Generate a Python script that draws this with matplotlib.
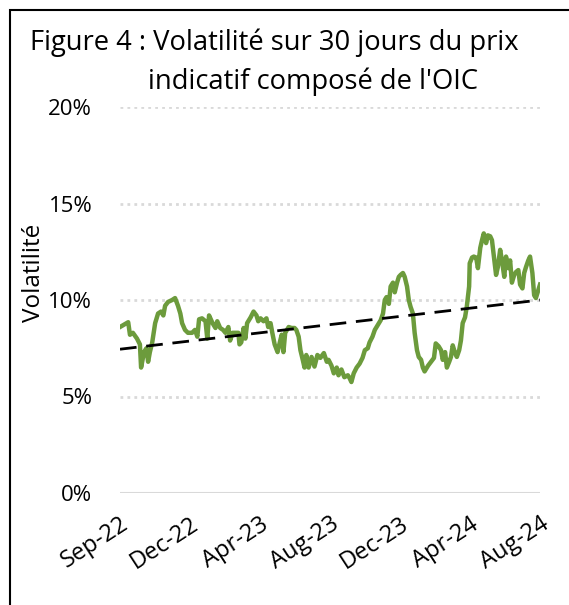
import matplotlib
matplotlib.use("Agg")
import matplotlib.pyplot as plt
import matplotlib.dates as mdates
from matplotlib.patches import Rectangle
from matplotlib.ticker import FuncFormatter
import numpy as np
import pandas as pd

# 30-day volatility (%) of the ICO composite indicator price
dates = [
    "2022-09-01", "2022-09-15", "2022-09-18", "2022-09-23", "2022-09-30", "2022-10-05",
    "2022-10-07", "2022-10-12", "2022-10-16", "2022-10-19", "2022-10-22", "2022-10-26",
    "2022-10-31", "2022-11-05", "2022-11-10", "2022-11-14", "2022-11-17", "2022-11-22",
    "2022-11-29", "2022-12-04", "2022-12-09", "2022-12-13", "2022-12-16", "2022-12-21",
    "2022-12-26", "2023-01-02", "2023-01-07", "2023-01-11", "2023-01-14", "2023-01-19",
    "2023-01-25", "2023-01-28", "2023-01-31", "2023-02-06", "2023-02-11", "2023-02-14",
    "2023-02-19", "2023-02-24", "2023-02-28", "2023-03-05", "2023-03-08", "2023-03-12",
    "2023-03-17", "2023-03-22", "2023-03-24", "2023-03-27", "2023-03-31", "2023-04-03",
    "2023-04-06", "2023-04-12", "2023-04-17", "2023-04-22", "2023-04-25", "2023-04-29",
    "2023-05-04", "2023-05-09", "2023-05-12", "2023-05-16", "2023-05-19", "2023-05-23",
    "2023-05-28", "2023-05-31", "2023-06-04", "2023-06-07", "2023-06-10", "2023-06-16",
    "2023-06-21", "2023-06-26", "2023-06-29", "2023-07-03", "2023-07-06", "2023-07-10",
    "2023-07-13", "2023-07-16", "2023-07-20", "2023-07-25", "2023-07-30", "2023-08-04",
    "2023-08-09", "2023-08-15", "2023-08-20", "2023-08-23", "2023-08-28", "2023-09-01",
    "2023-09-06", "2023-09-09", "2023-09-14", "2023-09-19", "2023-09-25", "2023-09-28",
    "2023-10-01", "2023-10-05", "2023-10-10", "2023-10-15", "2023-10-20", "2023-10-24",
    "2023-10-29", "2023-11-01", "2023-11-06", "2023-11-10", "2023-11-15", "2023-11-20",
    "2023-11-24", "2023-11-27", "2023-11-30", "2023-12-04", "2023-12-07", "2023-12-11",
    "2023-12-14", "2023-12-18", "2023-12-21", "2023-12-24", "2023-12-28", "2023-12-31",
    "2024-01-04", "2024-01-07", "2024-01-10", "2024-01-14", "2024-01-17", "2024-01-21",
    "2024-01-24", "2024-01-28", "2024-01-31", "2024-02-03", "2024-02-09", "2024-02-14",
    "2024-02-19", "2024-02-22", "2024-02-27", "2024-03-02", "2024-03-05", "2024-03-09",
    "2024-03-12", "2024-03-16", "2024-03-19", "2024-03-22", "2024-03-26", "2024-03-29",
    "2024-04-02", "2024-04-05", "2024-04-08", "2024-04-12", "2024-04-15", "2024-04-19",
    "2024-04-20", "2024-04-24", "2024-04-27", "2024-05-01", "2024-05-04", "2024-05-08",
    "2024-05-11", "2024-05-14", "2024-05-18", "2024-05-21", "2024-05-25", "2024-05-28",
    "2024-06-01", "2024-06-04", "2024-06-07", "2024-06-11", "2024-06-14", "2024-06-18",
    "2024-06-21", "2024-06-25", "2024-06-28", "2024-07-01", "2024-07-05", "2024-07-08",
    "2024-07-12", "2024-07-15", "2024-07-19", "2024-07-22", "2024-07-25", "2024-07-29",
    "2024-08-01", "2024-08-05", "2024-08-08", "2024-08-11", "2024-08-15", "2024-08-18",
]
volatility = [
    8.6, 8.85, 8.2, 8.3, 8.0, 7.7,
    6.5, 7.3, 7.5, 6.8, 7.3, 7.8,
    8.8, 9.3, 9.4, 9.2, 9.7, 9.9,
    10.0, 10.1, 9.7, 9.3, 8.8, 8.45,
    8.3, 8.3, 8.45, 8.1, 9.0, 9.05,
    8.9, 8.0, 9.2, 8.8, 8.55, 8.9,
    8.55, 8.45, 8.3, 8.6, 7.9, 8.3,
    8.3, 8.3, 7.7, 7.8, 8.55, 8.0,
    8.8, 9.1, 9.4, 9.2, 8.9, 9.05,
    8.9, 9.05, 8.6, 8.8, 8.3, 7.7,
    7.3, 7.7, 8.2, 7.3, 8.3, 8.6,
    8.55, 8.55, 8.45, 8.1, 7.4, 6.9,
    6.5, 7.15, 6.5, 7.05, 6.55, 7.15,
    7.0, 7.25, 6.8, 6.9, 6.6, 6.2,
    6.5, 6.1, 6.4, 6.0, 6.1, 5.95,
    5.75, 6.2, 6.5, 6.7, 7.0, 7.4,
    7.5, 7.8, 8.1, 8.45, 8.7, 8.95,
    9.3, 10.0, 10.15, 9.8, 10.7, 10.9,
    10.4, 10.9, 11.2, 11.3, 11.4, 11.2,
    10.7, 10.0, 9.65, 9.3, 8.3, 7.4,
    7.05, 6.9, 6.5, 6.3, 6.6, 6.8,
    7.0, 7.75, 7.6, 7.4, 6.9, 7.3,
    6.5, 6.8, 7.05, 7.65, 7.25, 7.05,
    7.4, 7.9, 8.8, 9.1, 9.65, 10.7,
    11.9, 12.2, 12.25, 12.2, 11.65, 12.7,
    13.1, 13.45, 12.95, 13.35, 13.3, 13.1,
    12.05, 11.3, 11.7, 12.6, 12.05, 11.2,
    12.25, 11.65, 12.05, 10.9, 11.3, 11.45,
    11.55, 10.8, 10.6, 11.4, 11.7, 12.05,
    12.25, 11.4, 10.25, 10.1, 10.5, 10.8,
]
# linear trendline, value at first and last date (%)
trend_ends = [7.45, 10.0]
y_ticks = [0, 5, 10, 15, 20]
n_date_labels = 7

d = pd.to_datetime(dates)
v = np.array(volatility)

font = "Open Sans"
fig = plt.figure(figsize=(5.69, 6.05), dpi=100)
ax = fig.add_axes([120/569, 1-493/605, 420/569, 386/605])

for yt in y_ticks[1:]:
    ax.axhline(yt, color="#d9d9d9", lw=2, ls=(0, (1, 1.5)), zorder=1)
ax.axhline(0, color="#d9d9d9", lw=1.5, zorder=1)

ax.plot(d, v, color="#6c9b3c", lw=3.2, solid_joinstyle="round", zorder=3)
ax.plot([d[0], d[-1]], trend_ends, color="black", lw=2, ls=(0, (6, 3.5)), zorder=4)

ax.set_xlim(d[0], d[-1])
ax.set_ylim(0, 20)
ax.set_yticks(y_ticks)
ax.yaxis.set_major_formatter(FuncFormatter(lambda val, pos: f"{val:.0f}%"))
xt = np.linspace(mdates.date2num(d[0]), mdates.date2num(d[-1]), n_date_labels)
ax.set_xticks(xt)
ax.xaxis.set_major_formatter(mdates.DateFormatter("%b-%y"))

for s in ax.spines.values():
    s.set_visible(False)
ax.tick_params(axis="both", length=0, labelsize=16, colors="black")
ax.tick_params(axis="y", pad=20)
ax.tick_params(axis="x", pad=14, labelsize=17)
for lab in ax.get_yticklabels() + ax.get_xticklabels():
    lab.set_fontfamily(font)
for lab in ax.get_xticklabels():
    lab.set_rotation(33)
    lab.set_ha("right")
    lab.set_va("top")
    lab.set_rotation_mode("anchor")

ax.set_ylabel("Volatilité", fontsize=17.5, fontfamily=font)
ax.yaxis.set_label_coords(-0.175, 0.57)

fig.text(30/569, 1-50/605, "Figure 4 : Volatilité sur 30 jours du prix",
         fontsize=19.7, fontfamily=font, va="baseline", ha="left")
fig.text(148/569, 1-89/605, "indicatif composé de l'OIC",
         fontsize=19.7, fontfamily=font, va="baseline", ha="left")

fig.add_artist(Rectangle((10/569, -0.1), 1.2, 1.1 - 10/605,
                         transform=fig.transFigure, fill=False,
                         edgecolor="black", lw=1.5))

fig.savefig("out.png", dpi=100)
